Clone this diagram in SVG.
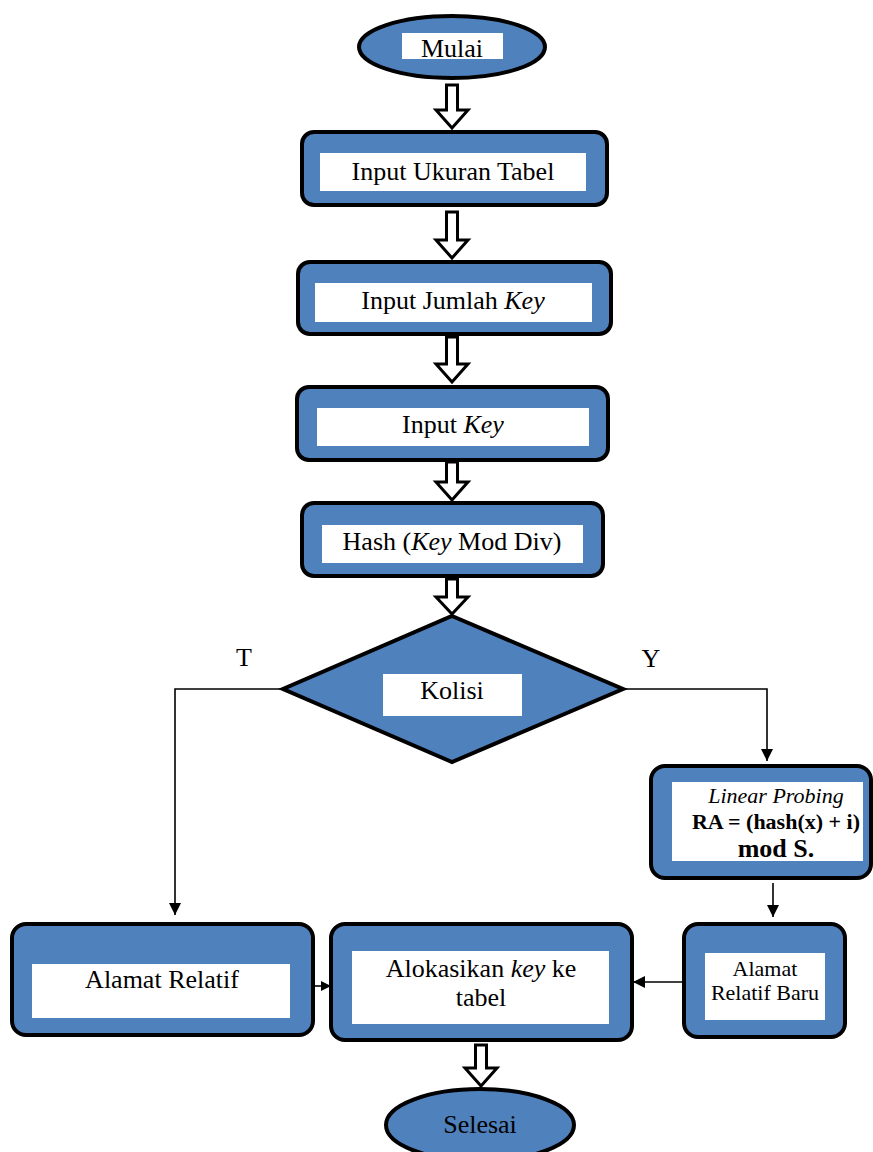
<svg xmlns="http://www.w3.org/2000/svg" width="873" height="1152" viewBox="0 0 873 1152" font-family="Liberation Serif, Times New Roman, serif">
<defs>
<style>
.blue{fill:#4F81BD;stroke:#000;stroke-width:4}
.wh{fill:#fff}
.t{fill:#000;text-anchor:middle}
.ha{fill:#fff;stroke:#000;stroke-width:3;stroke-linejoin:miter}
.ln{fill:none;stroke:#000;stroke-width:1.6}
</style>
<marker id="ah" markerWidth="10" markerHeight="10" refX="9" refY="5" orient="auto" markerUnits="userSpaceOnUse">
<path d="M0,0 L10,5 L0,10 Z" fill="#000"/>
</marker>
<marker id="ahs" markerWidth="12" markerHeight="12" refX="12" refY="6" orient="auto" markerUnits="userSpaceOnUse">
<path d="M0,0 L12,6 L0,12 Z" fill="#000"/>
</marker>
</defs>
<rect width="873" height="1152" fill="#fff"/>

<g id="mulai">
<ellipse class="blue" cx="452" cy="47" rx="93" ry="31"/>
<rect class="wh" x="402" y="33" width="101" height="26"/>
<text class="t" x="452" y="57" font-size="26">Mulai</text>
</g>

<g id="input-ukuran">
<rect class="blue" x="302" y="132" width="305" height="73" rx="12"/>
<rect class="wh" x="320" y="153" width="266" height="38"/>
<text class="t" x="453" y="180" font-size="26">Input Ukuran Tabel</text>
</g>

<g id="input-jumlah">
<rect class="blue" x="298" y="262" width="313" height="72" rx="12"/>
<rect class="wh" x="315" y="283" width="277" height="39"/>
<text class="t" x="453" y="309" font-size="26">Input Jumlah <tspan font-style="italic">Key</tspan></text>
</g>

<g id="input-key">
<rect class="blue" x="297" y="387" width="311" height="73" rx="12"/>
<rect class="wh" x="317" y="408" width="272" height="38"/>
<text class="t" x="453" y="433" font-size="26">Input <tspan font-style="italic">Key</tspan></text>
</g>

<g id="hash">
<rect class="blue" x="302" y="503" width="301" height="73" rx="12"/>
<rect class="wh" x="322" y="525" width="261" height="38"/>
<text class="t" x="452" y="550" font-size="26">Hash (<tspan font-style="italic">Key</tspan> Mod Div)</text>
</g>

<g id="kolisi">
<polygon class="blue" points="452,616 623,689 452,762 283,689"/>
<rect class="wh" x="383" y="674" width="139" height="42"/>
<text class="t" x="452" y="699" font-size="26">Kolisi</text>
</g>

<g id="linear-probing">
<rect class="blue" x="651" y="766" width="220" height="112" rx="14"/>
<rect class="wh" x="672" y="782" width="191" height="79"/>
<text class="t" x="776" y="803" font-size="22" font-style="italic">Linear Probing</text>
<text class="t" x="776" y="829" font-size="22" font-weight="bold">RA = (hash(x) + i)</text>
<text class="t" x="776" y="857" font-size="26" font-weight="bold">mod S.</text>
</g>

<g id="alamat-relatif">
<rect class="blue" x="12" y="924" width="301" height="111" rx="14"/>
<rect class="wh" x="32" y="964" width="258" height="54"/>
<text class="t" x="162" y="988" font-size="26">Alamat Relatif</text>
</g>

<g id="alokasikan">
<rect class="blue" x="331" y="924" width="301" height="116" rx="14"/>
<rect class="wh" x="352" y="951" width="257" height="73"/>
<text class="t" x="481" y="977" font-size="26">Alokasikan <tspan font-style="italic">key</tspan> ke</text>
<text class="t" x="481" y="1006" font-size="26">tabel</text>
</g>

<g id="alamat-baru">
<rect class="blue" x="684" y="924" width="161" height="113" rx="14"/>
<rect class="wh" x="705" y="953" width="120" height="67"/>
<text class="t" x="765" y="976" font-size="22">Alamat</text>
<text class="t" x="765" y="1000" font-size="22">Relatif Baru</text>
</g>

<g id="selesai">
<ellipse class="blue" cx="480" cy="1125" rx="94" ry="36"/>
<text class="t" x="480" y="1133" font-size="26">Selesai</text>
</g>

<g id="connectors">
<path class="ha" d="M446.5,85 H457.5 V110 H468 L452,128 L436,110 H446.5 Z"/>
<path class="ha" d="M446.5,212 H457.5 V240 H468 L452,258 L436,240 H446.5 Z"/>
<path class="ha" d="M446.5,337 H457.5 V364 H468 L452,382 L436,364 H446.5 Z"/>
<path class="ha" d="M446.5,462 H457.5 V482 H468 L452,500 L436,482 H446.5 Z"/>
<path class="ha" d="M446.5,579 H457.5 V597 H468 L452,614 L436,597 H446.5 Z"/>
<path class="ha" d="M475.5,1045 H486.5 V1068 H497 L481,1086 L465,1068 H475.5 Z"/>
<path class="ln" d="M283,689 H175 V915" marker-end="url(#ahs)"/>
<path class="ln" d="M623,689 H767 V761" marker-end="url(#ahs)"/>
<path class="ln" d="M773,883 V917" marker-end="url(#ahs)"/>
<path class="ln" d="M684,982 H633" marker-end="url(#ahs)"/>
<path class="ln" d="M315,986 H330" marker-end="url(#ah)"/>
<text class="t" x="244" y="666" font-size="26">T</text>
<text class="t" x="651" y="667" font-size="26">Y</text>
</g>
</svg>
